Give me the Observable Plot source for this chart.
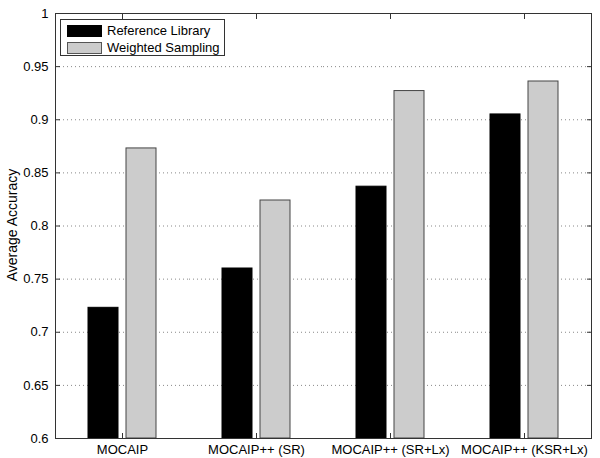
<!DOCTYPE html>
<html><head><meta charset="utf-8">
<script src="https://cdn.jsdelivr.net/npm/d3@7"></script>
<script src="https://cdn.jsdelivr.net/npm/@observablehq/plot@0.6"></script>
<style>
body{margin:0;background:#fff;font-family:"Liberation Sans",Arial,sans-serif;}
#wrap{position:relative;width:600px;height:458px;}
#legend{position:absolute;left:60px;top:19px;width:163px;height:35px;border:1px solid #333;background:#fff;font-size:13px;color:#000;}
.row{position:absolute;left:6px;height:13px;display:flex;align-items:center;}
.sw{width:35px;height:12px;box-sizing:border-box;border:1px solid #444;margin-right:5px;}
#ylabel{position:absolute;left:12px;top:225px;transform:translate(-50%,-50%) rotate(-90deg);white-space:nowrap;font-size:14px;color:#000;line-height:1;}
</style></head>
<body><div id="wrap"><div id="chart"></div><div id="legend"></div><div id="ylabel"></div></div>
<script>
const categories = ["MOCAIP", "MOCAIP++ (SR)", "MOCAIP++ (SR+Lx)", "MOCAIP++ (KSR+Lx)"];
const series = ["Reference Library", "Weighted Sampling"];
const referenceLibrary = [0.723, 0.760, 0.837, 0.905];
const weightedSampling = [0.873, 0.824, 0.927, 0.936];
const yTicks = [0.6, 0.65, 0.7, 0.75, 0.8, 0.85, 0.9, 0.95, 1];
const yDomain = [0.6, 1];
const yLabel = "Average Accuracy";
const seriesFill = ["#000000", "#cccccc"];
const seriesStroke = ["#000000", "#444444"];

const rows = [];
categories.forEach((c, i) => {
  rows.push({category: c, series: series[0], value: referenceLibrary[i]});
  rows.push({category: c, series: series[1], value: weightedSampling[i]});
});
const fmt = d => String(+d.toFixed(2));
const noText = () => "";

const chart = Plot.plot({
  width: 600, height: 458,
  marginLeft: 54, marginRight: 8, marginTop: 13, marginBottom: 20,
  style: {fontFamily: '"Liberation Sans", Arial, sans-serif', fontSize: "13px", color: "#000", background: "#fff"},
  fx: {domain: categories, padding: 0, label: null},
  x: {domain: series, paddingInner: 0.205, paddingOuter: 0.827, axis: null},
  y: {domain: yDomain, label: null},
  marks: [
    Plot.gridY(yTicks, {stroke: "#888", strokeOpacity: 1, strokeDasharray: "1,3"}),
    ...series.map((s, k) => Plot.barY(rows.filter(d => d.series === s), {
      fx: "category", x: "series", y1: () => yDomain[0], y2: "value",
      fill: seriesFill[k], stroke: seriesStroke[k], strokeWidth: 1
    })),
    Plot.frame({facet: "super", stroke: "#333"}),
    Plot.axisY(yTicks, {anchor: "left", tickSize: 0, tickPadding: 7, tickFormat: fmt, fontSize: 13, label: null}),
    Plot.axisY(yTicks, {anchor: "left", tickSize: 5, dx: 5, tickFormat: noText, label: null, stroke: "#333"}),
    Plot.axisY(yTicks, {anchor: "right", tickSize: 5, dx: -5, tickFormat: noText, label: null, stroke: "#333"}),
    Plot.axisFx({anchor: "bottom", tickSize: 0, tickPadding: 6, fontSize: 13, label: null}),
    Plot.axisFx({anchor: "bottom", tickSize: 5, dy: -5, tickFormat: noText, label: null, stroke: "#333"}),
    Plot.axisFx({anchor: "top", tickSize: 5, dy: 5, tickFormat: noText, label: null, stroke: "#333"})
  ]
});
document.getElementById("chart").appendChild(chart);
document.getElementById("ylabel").textContent = yLabel;

const legend = document.getElementById("legend");
series.forEach((s, k) => {
  const r = document.createElement("div");
  r.className = "row";
  r.style.top = (k === 0 ? 4 : 21) + "px";
  r.innerHTML = `<div class="sw" style="background:${seriesFill[k]};border-color:${k === 0 ? "#000" : "#555"}"></div><span>${s}</span>`;
  legend.appendChild(r);
});
</script></body></html>
